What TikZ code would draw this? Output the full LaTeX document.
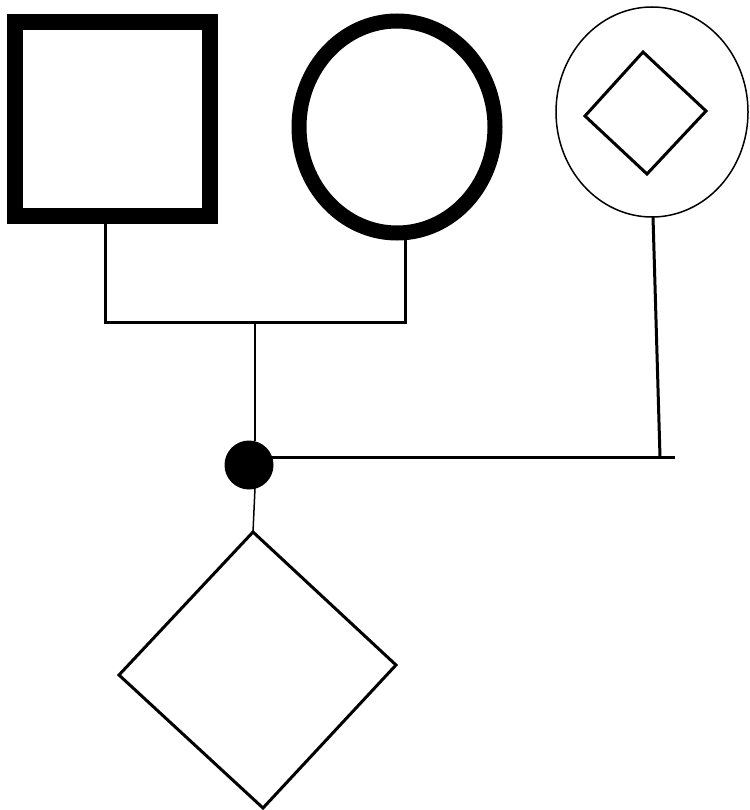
\documentclass[tikz,border=0pt]{standalone}
\begin{document}
\begin{tikzpicture}[x=1pt,y=-1pt,
  thickline/.style={line width=3pt},
  thinline/.style={line width=1.5pt},
  heavy/.style={line width=16pt},
  heavyc/.style={line width=15pt}]
\useasboundingbox (0,0) rectangle (749,810);
% square
\draw[heavy] (15,22) rectangle (210,216);
\coordinate (sqb) at (105,224);
% thick circle
\draw[heavyc] (397,127) ellipse [x radius=98, y radius=106];
\coordinate (cib) at (405,240);
% thin circle with diamond
\draw[thinline] (652,112) ellipse [x radius=96, y radius=105];
\draw[thickline,line join=miter] (643,52) -- (706,111) -- (647,174) -- (585,116) -- cycle;
\coordinate (tcb) at (653,217);
% marriage line
\coordinate (ml) at (105,322);
\coordinate (mr) at (405,322);
\coordinate (mm) at (255,322);
\draw[thickline] (sqb) -- (ml) -- (mr) -- (cib);
% dot
\node[circle,fill=black,inner sep=0pt,minimum size=49pt] (dot) at (249,465) {};
\draw[thinline] (mm) -- (255,441);
\coordinate (rend) at (675,457);
\coordinate (rj) at (660,457);
\draw[thickline] (dot.center) ++(20,-8) -- (rend);
\draw[thickline] (tcb) -- (rj);
% big diamond
\coordinate (dt) at (253,532);
\draw[thinline] (255,488) -- (dt);
\draw[thickline,line join=miter] (dt) -- (396,665) -- (263,808) -- (119,675) -- cycle;
\end{tikzpicture}
\end{document}
